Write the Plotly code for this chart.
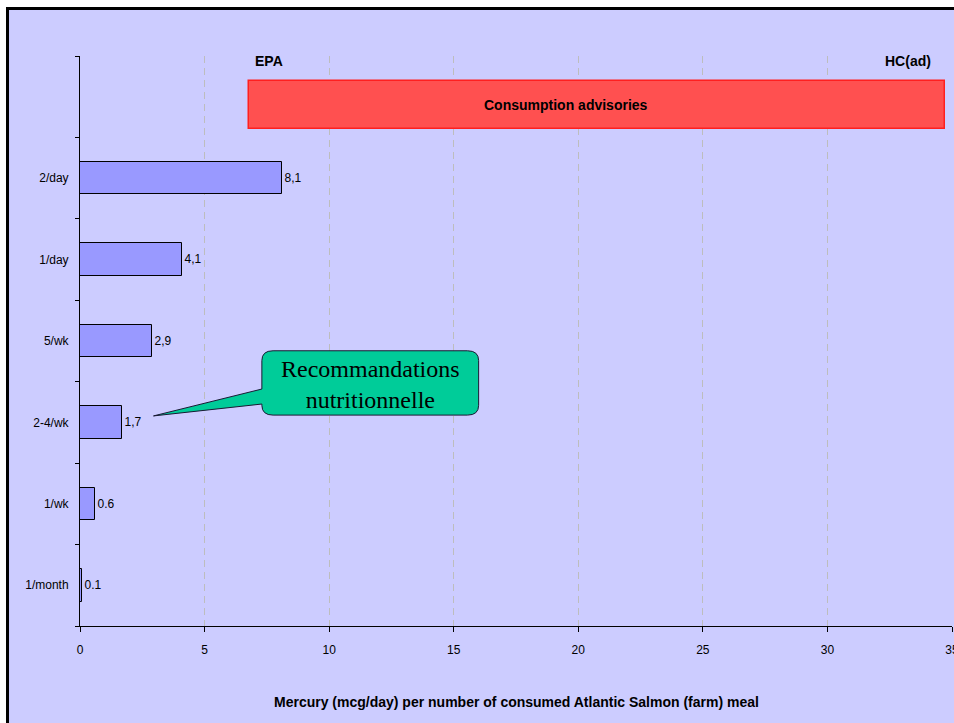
import plotly.graph_objects as go

# Meal frequencies (bottom to top) and the daily mercury intake for each
frequencies = ["1/month", "1/wk", "2-4/wk", "5/wk", "1/day", "2/day"]
mercury = [0.1, 0.6, 1.7, 2.9, 4.1, 8.1]
mercury_labels = ["0.1", "0.6", "1,7", "2,9", "4,1", "8,1"]

x_ticks = [0, 5, 10, 15, 20, 25, 30, 35]

# Range covered by consumption advisories (EPA ... Health Canada adult)
advisory_low = 6.8
advisory_high = 34.7
advisory_row = 5.9

SANS = "Liberation Sans Narrow, Arial Narrow, Liberation Sans, Arial, sans-serif"
SERIF = "Liberation Serif, Times New Roman, serif"

W, H = 954, 723
ML, MR, MT, MB = 80, 2, 56, 97
plot_w = W - ML - MR
plot_h = H - MT - MB


def px_to_paper_x(px):
    return (px - ML) / plot_w


def px_to_paper_y(py):
    return (H - MB - py) / plot_h


rows = list(range(len(frequencies)))

fig = go.Figure()

fig.add_trace(go.Bar(
    y=rows, x=mercury, orientation="h", width=0.4,
    marker=dict(color="#9999FF", line=dict(color="#000000", width=1)),
    text=mercury_labels, textposition="outside", constraintext="none",
    textfont=dict(family=SANS, size=12, color="#000000"),
    cliponaxis=False, hoverinfo="x+y", showlegend=False,
))

fig.add_trace(go.Bar(
    y=[advisory_row], x=[advisory_high - advisory_low], base=[advisory_low],
    orientation="h", width=0.59,
    marker=dict(color="#FF5050", line=dict(color="#FF1F1F", width=1.5)),
    hoverinfo="skip", showlegend=False,
))

# Outer frame of the chart
shapes = [dict(
    type="rect", xref="paper", yref="paper", layer="below",
    x0=px_to_paper_x(7.5), x1=px_to_paper_x(970),
    y0=px_to_paper_y(740), y1=px_to_paper_y(8.5),
    fillcolor="#CCCCFF", line=dict(color="#000000", width=3),
)]

# Rounded callout with a pointer towards the 2-4/wk bar
bx0, bx1, by0, by1 = 7.3, 16.0, 2.09, 2.88
rx, ry = 0.45, 0.12
tip_x, tip_y = 2.95, 2.08
wedge_lo, wedge_hi = 2.226, 2.41
path = (
    f"M {bx0+rx},{by1} L {bx1-rx},{by1} Q {bx1},{by1} {bx1},{by1-ry} "
    f"L {bx1},{by0+ry} Q {bx1},{by0} {bx1-rx},{by0} "
    f"L {bx0+rx},{by0} Q {bx0},{by0} {bx0},{by0+ry} "
    f"L {bx0},{wedge_lo} L {tip_x},{tip_y} L {bx0},{wedge_hi} "
    f"L {bx0},{by1-ry} Q {bx0},{by1} {bx0+rx},{by1} Z"
)
shapes.append(dict(
    type="path", xref="x", yref="y", path=path, layer="above",
    fillcolor="#00CC99", line=dict(color="#1A1A33", width=1),
))

annotations = [
    dict(x=19.5, y=advisory_row, xref="x", yref="y", text="<b>Consumption advisories</b>",
         showarrow=False, font=dict(family=SANS, size=14, color="#000000")),
    dict(x=7.6, y=6.44, xref="x", yref="y", text="<b>EPA</b>",
         showarrow=False, font=dict(family=SANS, size=14, color="#000000")),
    dict(x=33.25, y=6.44, xref="x", yref="y", text="<b>HC(ad)</b>",
         showarrow=False, font=dict(family=SANS, size=14, color="#000000")),
    dict(x=(bx0 + bx1) / 2, y=2.46, xref="x", yref="y",
         text="Recommandations<br>nutritionnelle",
         showarrow=False, font=dict(family=SERIF, size=24, color="#000000")),
    dict(x=0.5, y=px_to_paper_y(702), xref="paper", yref="paper",
         text="<b>Mercury (mcg/day) per number of consumed Atlantic Salmon (farm) meal</b>",
         showarrow=False, yanchor="middle",
         font=dict(family=SANS, size=14, color="#000000")),
]

fig.update_layout(
    width=W, height=H, autosize=False,
    margin=dict(l=ML, r=MR, t=MT, b=MB, pad=0, autoexpand=False),
    paper_bgcolor="#FFFFFF", plot_bgcolor="rgba(0,0,0,0)",
    barmode="overlay", bargap=0,
    shapes=shapes, annotations=annotations,
    font=dict(family=SANS, size=12, color="#000000"),
)

fig.update_xaxes(
    range=[0, 35], tickvals=x_ticks, ticktext=[str(t) for t in x_ticks],
    showline=True, linecolor="#000000", linewidth=1,
    ticks="outside", ticklen=5, tickcolor="#000000",
    ticklabelstandoff=8, ticklabeloverflow="allow", automargin=False,
    showgrid=True, gridcolor="#BDBDBD", gridwidth=1, griddash="7px,5px",
    zeroline=False, tickfont=dict(family=SANS, size=12),
)

fig.update_yaxes(
    range=[-0.5, 6.5], tickvals=rows, ticktext=frequencies, automargin=False,
    showline=True, linecolor="#000000", linewidth=1,
    ticks="outside", ticklen=4, tickcolor="rgba(0,0,0,0)",
    minor=dict(tickvals=[r - 0.5 for r in range(len(frequencies) + 2)],
               ticks="outside", ticklen=4, tickcolor="#000000", showgrid=False),
    ticklabelstandoff=4,
    showgrid=False, zeroline=False, tickfont=dict(family=SANS, size=12),
)

fig.write_html("out.html")
